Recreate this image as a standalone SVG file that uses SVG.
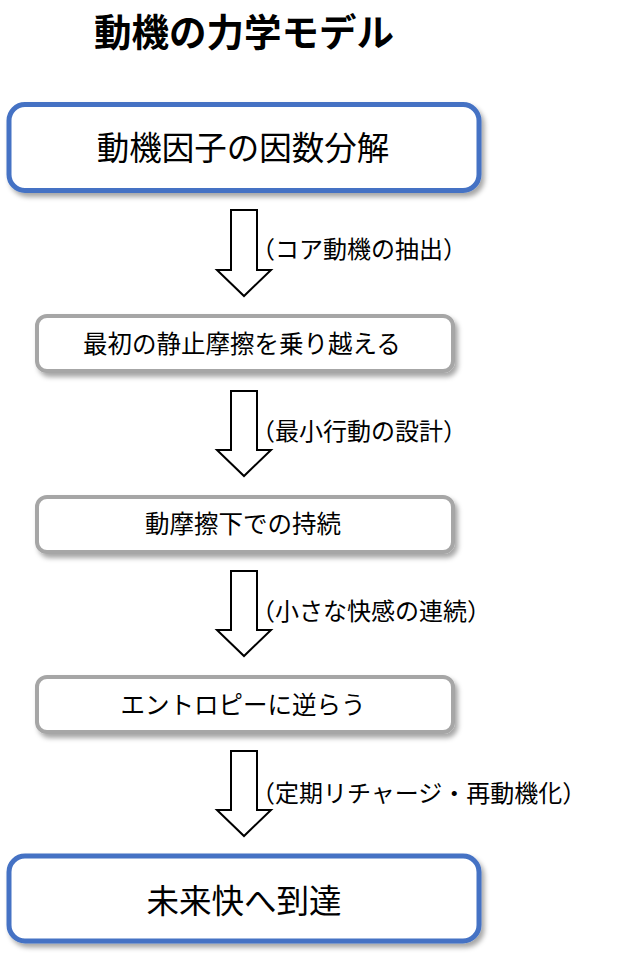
<svg xmlns="http://www.w3.org/2000/svg" width="622" height="959" viewBox="0 0 622 959">
<defs>
<filter id="sh" x="-10%" y="-20%" width="125%" height="150%">
<feDropShadow dx="3" dy="4" stdDeviation="2.5" flood-color="#000" flood-opacity="0.35"/>
</filter>
<style>
text{font-family:"Noto Sans CJK JP","Noto Sans CJK SC",sans-serif;fill:#000}
.title{font-size:37.5px;font-weight:bold;text-anchor:middle}
.big{fill:#fff;stroke:#4472C4;stroke-width:5}
.small{fill:#fff;stroke:#A6A6A6;stroke-width:4}
.bt{font-size:32.5px;text-anchor:middle}
.st{font-size:24.5px;text-anchor:middle}
.lab{font-size:24px}
.arr{fill:#fff;stroke:#000;stroke-width:2;stroke-linejoin:miter}
</style>
</defs>
<rect width="622" height="959" fill="#fff"/>
<text class="title" x="244" y="46">動機の力学モデル</text>
<g id="n1"><rect class="big" x="9" y="104.5" width="470" height="86" rx="16" filter="url(#sh)"/><text class="bt" x="243" y="160">動機因子の因数分解</text></g>
<g id="n2"><rect class="small" x="37" y="316" width="416" height="55" rx="10" filter="url(#sh)"/><text class="st" x="242" y="353">最初の静止摩擦を乗り越える</text></g>
<g id="n3"><rect class="small" x="37" y="497" width="416" height="55" rx="10" filter="url(#sh)"/><text class="st" x="243" y="533">動摩擦下での持続</text></g>
<g id="n4"><rect class="small" x="37" y="677" width="416" height="55" rx="10" filter="url(#sh)"/><text class="st" x="243" y="714">エントロピーに逆らう</text></g>
<g id="n5"><rect class="big" x="9" y="856" width="470" height="85" rx="16" filter="url(#sh)"/><text class="bt" x="244" y="913">未来快へ到達</text></g>
<g id="connectors">
<path class="arr" d="M231,210 H257 V270 H271 L244,296 L217,270 H231 Z"/>
<path class="arr" d="M231,391 H257 V450 H271 L244,476 L217,450 H231 Z"/>
<path class="arr" d="M231,571 H257 V630 H271 L244,656 L217,630 H231 Z"/>
<path class="arr" d="M231,751 H257 V810 H271 L244,836 L217,810 H231 Z"/>
<text class="lab" x="251" y="258">（コア動機の抽出）</text>
<text class="lab" x="251" y="440">（最小行動の設計）</text>
<text class="lab" x="251" y="620">（小さな快感の連続）</text>
<text class="lab" x="251" y="802">（定期リチャージ・再動機化）</text>
</g>
</svg>
